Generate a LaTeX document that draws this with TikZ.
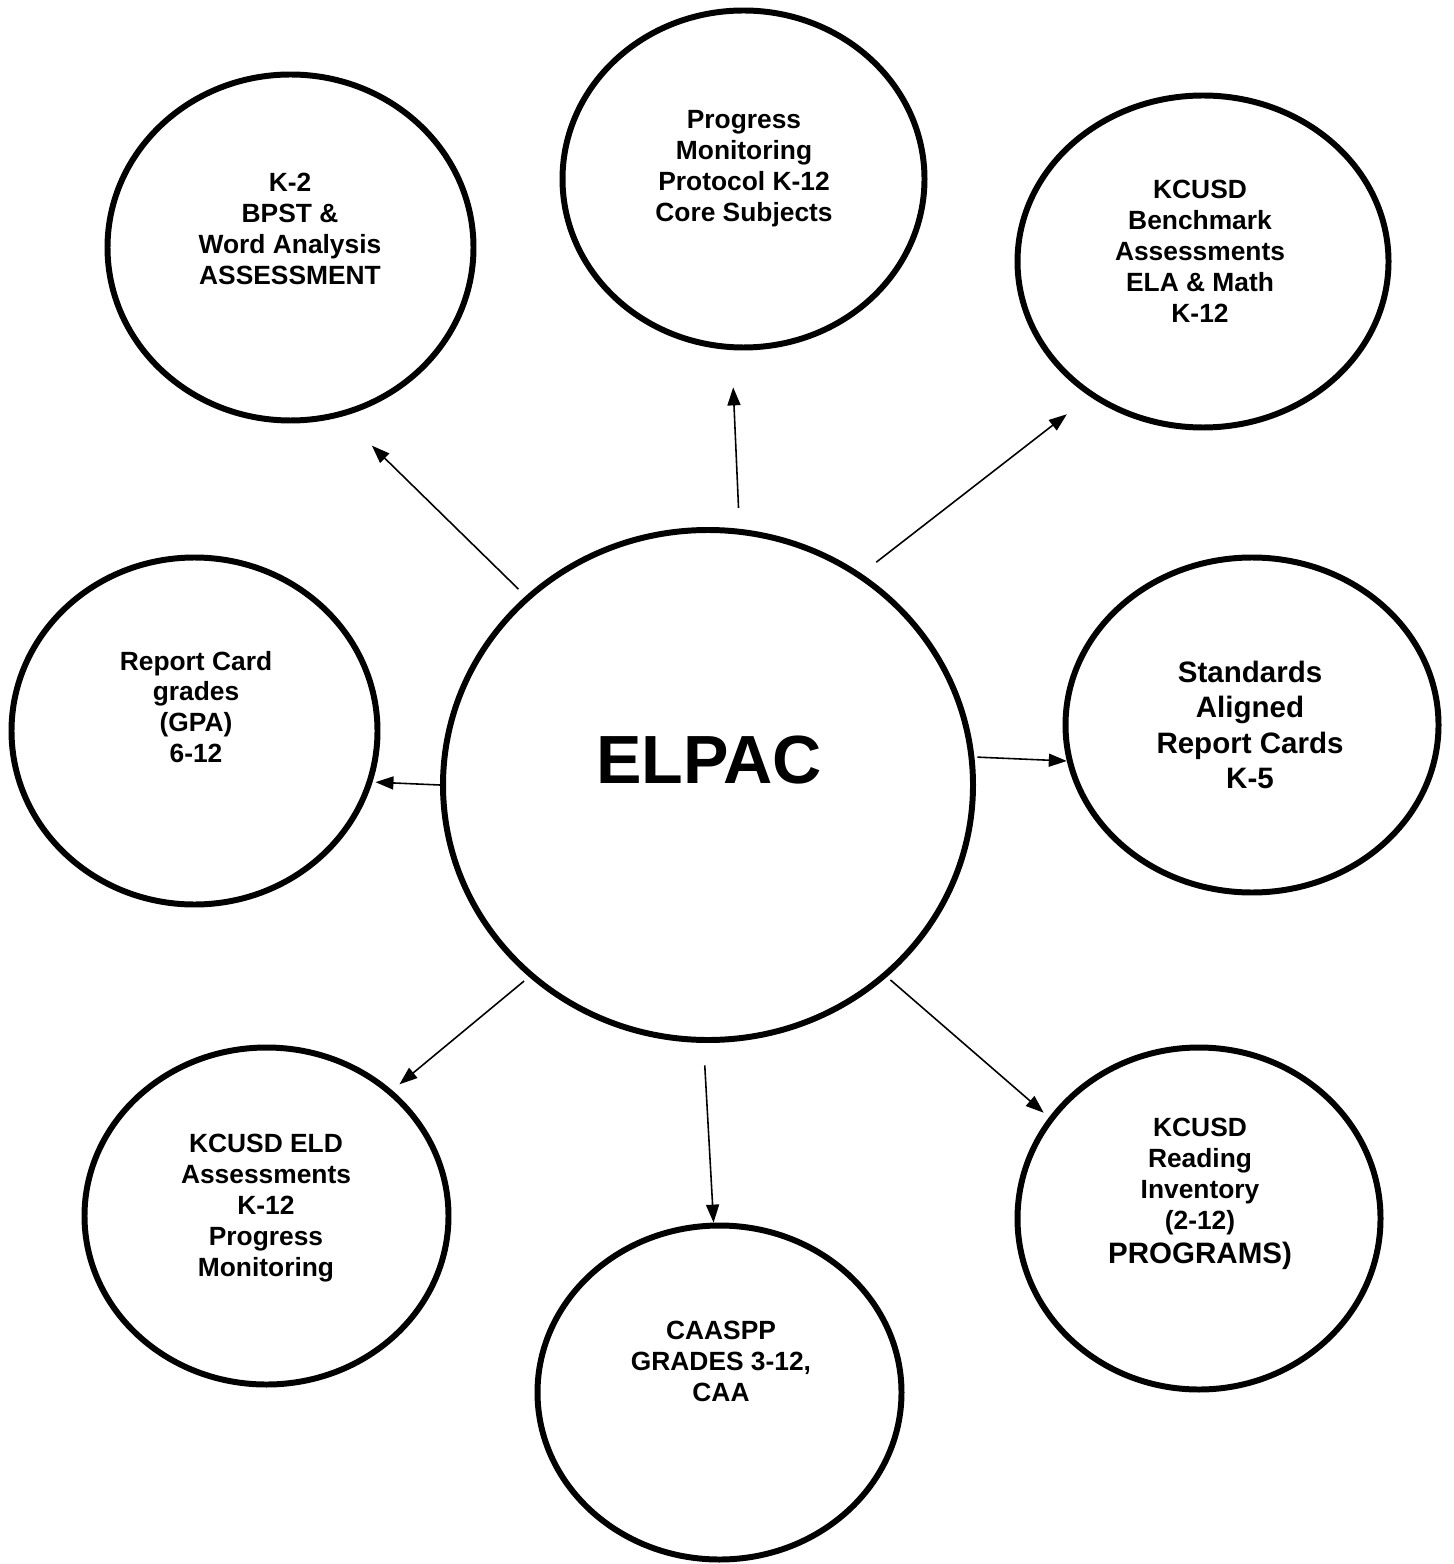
\documentclass[tikz,border=0pt]{standalone}
\usepackage{fontspec}
\setmainfont{Liberation Sans}
\usetikzlibrary{shapes.geometric,arrows.meta}

\begin{document}
\begin{tikzpicture}[x=0.1mm,y=-0.1mm,
    bubble/.style={draw,ellipse,line width=1.7pt,inner sep=0pt},
    lbl/.style={align=center,font=\fontsize{7.5}{8.8}\selectfont\bfseries},
    biglbl/.style={align=center,font=\fontsize{8.4}{10}\selectfont\bfseries},
    arr/.style={-{Triangle[length=1.8mm,width=1.3mm]},line width=0.45pt}]
    \useasboundingbox (0,0) rectangle (1453,1564);

    \node[bubble,minimum width=53mm,minimum height=51mm] (elpac) at (708,785) {};
    \node[bubble,minimum width=36.6mm,minimum height=34.6mm] (k2) at (290.5,247.5) {};
    \node[bubble,minimum width=36.2mm,minimum height=33.7mm] (prog) at (743.5,179) {};
    \node[bubble,minimum width=37.1mm,minimum height=33.2mm] (bench) at (1203,261.5) {};
    \node[bubble,minimum width=36.6mm,minimum height=34.7mm] (rcard) at (194.5,731) {};
    \node[bubble,minimum width=37.3mm,minimum height=33.5mm] (stand) at (1252,725) {};
    \node[bubble,minimum width=36.4mm,minimum height=33.7mm] (eld) at (266.5,1216) {};
    \node[bubble,minimum width=36.4mm,minimum height=33.4mm] (caaspp) at (719.5,1392.5) {};
    \node[bubble,minimum width=36.3mm,minimum height=34.2mm] (read) at (1199,1218.5) {};

    \node[font=\fontsize{19.4}{23}\selectfont\bfseries] (elpact) at (709,760) {ELPAC};
    \node[lbl] (k2t) at (290,229) {K-2\\BPST \&\\Word Analysis\\ASSESSMENT};
    \node[lbl] (progt) at (744,169) {Progress\\Monitoring\\Protocol K-12\\Core Subjects};
    \node[lbl] (bencht) at (1200,251) {KCUSD\\Benchmark\\Assessments\\ELA \& Math\\K-12};
    \node[lbl] (rcardt) at (196,707) {Report Card\\grades\\(GPA)\\6-12};
    \node[biglbl] (standt) at (1250,725) {Standards\\Aligned\\Report Cards\\K-5};
    \node[lbl] (eldt) at (266,1208) {KCUSD ELD\\Assessments\\K-12\\Progress\\Monitoring};
    \node[lbl] (caasppt) at (721,1361) {CAASPP\\GRADES 3-12,\\CAA};
    \node[lbl] (readt) at (1200,1194) {KCUSD\\Reading\\Inventory\\(2-12)\\[0.3mm]{\fontsize{8.4}{10}\selectfont PROGRAMS)}};

    \draw (elpac.134.2) edge[arr,shorten <=0.99mm,shorten >=4.16mm] (k2.287.5);
    \draw (elpac.83.65) edge[arr,shorten <=2.09mm,shorten >=3.73mm] (prog.266.2);
    \draw (elpac.54.3) edge[arr,shorten <=1.86mm,shorten >=2.89mm] (bench.230.8);
    \draw (elpac.180.15) edge[arr,shorten >=0.29mm] (rcard.344);
    \draw (elpac.6.05) edge[arr,shorten <=0.3mm] (stand.191.7);
    \draw (elpac.227.8) edge[arr,shorten <=0.64mm,shorten >=0.93mm] (eld.45.96);
    \draw (elpac.269.6) edge[arr,shorten <=2.25mm] (caaspp.92.2);
    \draw (elpac.313.55) edge[arr,shorten <=0.45mm,shorten >=0.7mm] (read.146);
\end{tikzpicture}
\end{document}
